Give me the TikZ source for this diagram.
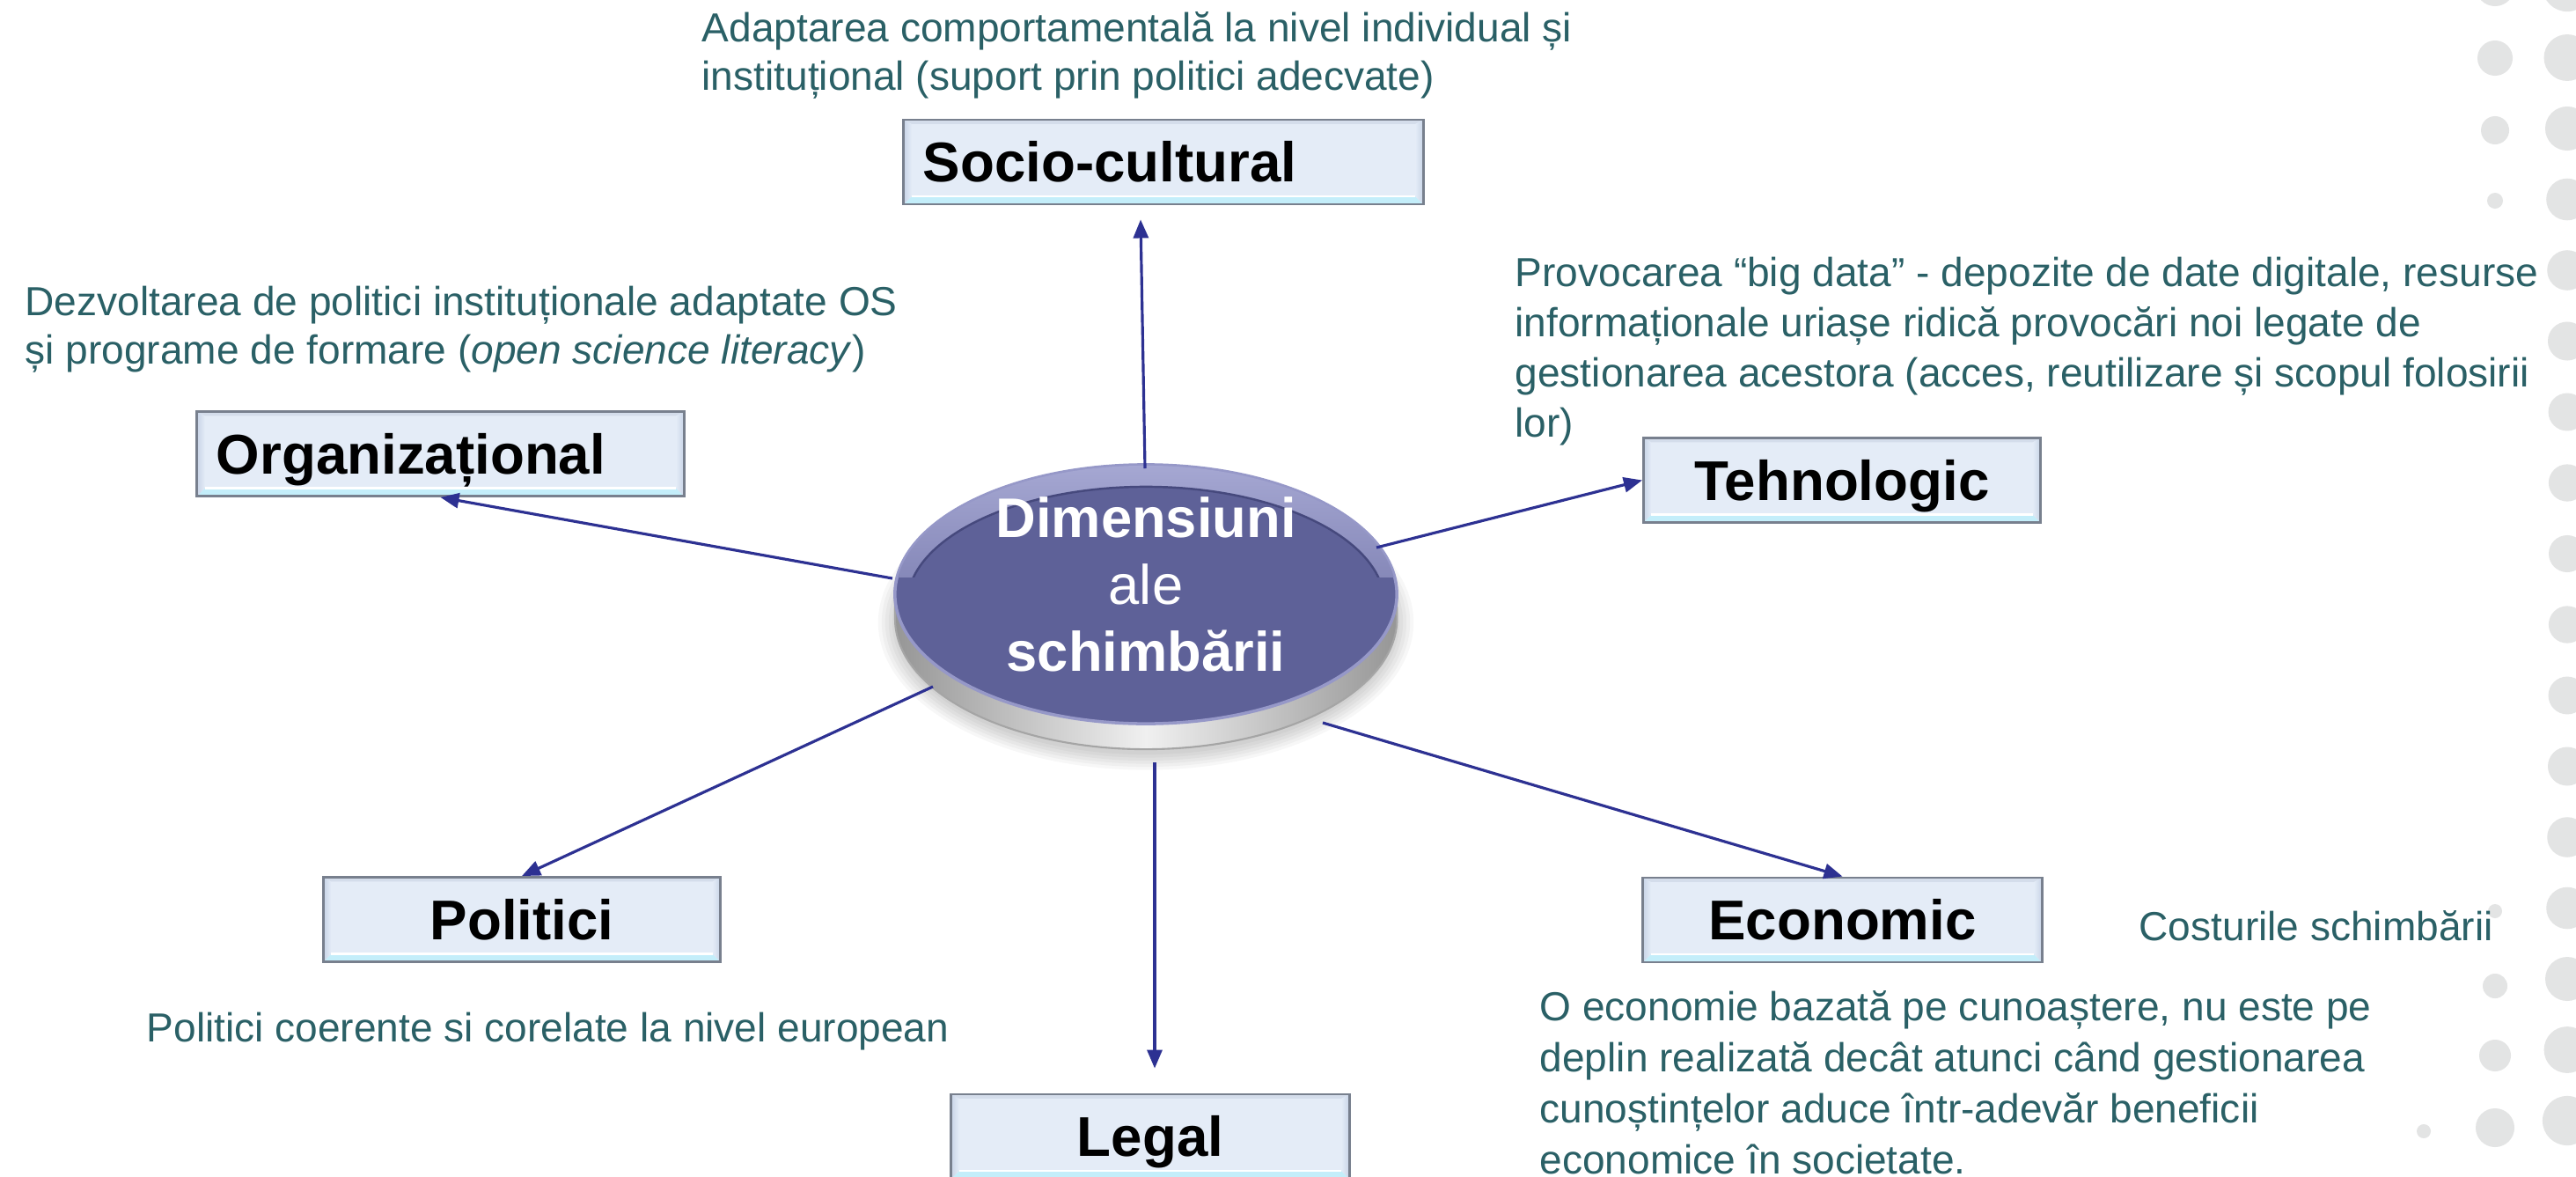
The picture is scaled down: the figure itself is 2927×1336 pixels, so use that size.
\documentclass[tikz,border=0pt]{standalone}
\usepackage{fontspec}
\setmainfont{Liberation Sans}
\usetikzlibrary{shapes.geometric,arrows.meta,calc}
\definecolor{desccol}{RGB}{42,96,102}
\definecolor{arrcol}{RGB}{45,49,146}
\definecolor{boxfill}{RGB}{228,236,247}
\definecolor{boxline}{RGB}{120,128,142}
\definecolor{bevbot}{RGB}{196,238,250}
\definecolor{bevside}{RGB}{200,212,231}
\definecolor{bevtop}{RGB}{212,221,235}
\definecolor{facecol}{RGB}{94,97,152}
\definecolor{facelight}{RGB}{165,167,210}
\definecolor{faceedge}{RGB}{150,152,200}
\definecolor{innerline}{RGB}{70,73,125}
\definecolor{rimdark}{RGB}{150,150,150}
\definecolor{rimlight}{RGB}{240,240,240}
\definecolor{rimedge}{RGB}{165,165,165}
\definecolor{dotcol}{RGB}{227,228,228}
\begin{document}
\begin{tikzpicture}[x=0.01cm,y=-0.01cm,
  desc/.style={text=desccol, font=\fontsize{13.1}{15.7}\selectfont, inner sep=0pt, anchor=base west},
  arr/.style={draw=arrcol, line width=0.9pt, -{Triangle[length=0.21cm,width=0.17cm]}},
  ctrtxt/.style={text=white, font=\fontsize{18}{21.6}\selectfont, align=center, inner sep=0pt},
  bevelbox/.style={draw=boxline, line width=0.8pt, fill=boxfill, inner sep=0pt,
    minimum height=0.96cm, text height=12.96pt, text depth=0pt, text=black,
    font=\fontsize{18.1}{21}\selectfont\bfseries,
    path picture={
      \fill[bevtop] (path picture bounding box.north west) -- (path picture bounding box.north east)
        -- ([xshift=-0.09cm,yshift=-0.05cm]path picture bounding box.north east)
        -- ([xshift=0.09cm,yshift=-0.05cm]path picture bounding box.north west) -- cycle;
      \fill[bevbot] (path picture bounding box.south west) -- (path picture bounding box.south east)
        -- ([xshift=-0.09cm,yshift=0.09cm]path picture bounding box.south east)
        -- ([xshift=0.09cm,yshift=0.09cm]path picture bounding box.south west) -- cycle;
      \shade[left color=bevside, right color=boxfill] (path picture bounding box.south west)
        -- ([xshift=0.09cm,yshift=0.09cm]path picture bounding box.south west)
        -- ([xshift=0.09cm,yshift=-0.05cm]path picture bounding box.north west)
        -- (path picture bounding box.north west) -- cycle;
      \shade[left color=boxfill, right color=bevside] (path picture bounding box.south east)
        -- ([xshift=-0.09cm,yshift=0.09cm]path picture bounding box.south east)
        -- ([xshift=-0.09cm,yshift=-0.05cm]path picture bounding box.north east)
        -- (path picture bounding box.north east) -- cycle;
      \draw[white, line width=0.6pt] ([xshift=0.09cm,yshift=0.09cm]path picture bounding box.south west)
        -- ([xshift=-0.09cm,yshift=0.09cm]path picture bounding box.south east);
    }}
]
\useasboundingbox[fill=white] (0,0) rectangle (2927,1336);

% decorative dots on the right
\foreach \k in {0,...,16}{
  \pgfmathsetmacro\yy{-15+80.5*\k}
  \pgfmathsetmacro\rr{0.21+0.07*((\yy-630)/640)^2}
  \fill[dotcol] (2917,\yy) circle[radius=\rr cm];
}
\foreach \yy/\rr in {-15/0.22, 66/0.20, 148/0.16, 228/0.09, 1035/0.08, 1120/0.14, 1199/0.18, 1281/0.22}
  \fill[dotcol] (2835,\yy) circle[radius=\rr cm];
\fill[dotcol] (2754,1285) circle[radius=0.08cm];

% central disc
\coordinate (c0) at (1302,675);
\foreach \i in {0,...,5}
  \fill[black, opacity=0.03] ($(c0)+(0,32)$) ellipse [x radius={2.84cm+\i*0.04cm}, y radius={1.50cm+\i*0.035cm}];
\shade[left color=rimdark, right color=rimdark, middle color=rimlight, draw=rimedge, line width=0.6pt]
  ($(c0)+(-285,0)$) -- ($(c0)+(-285,28)$)
  arc[start angle=180, end angle=360, x radius=2.85cm, y radius=1.48cm]
  -- ($(c0)+(285,0)$)
  arc[start angle=0, end angle=180, x radius=2.85cm, y radius=1.47cm] -- cycle;
\node[ellipse, draw=faceedge, line width=1pt, fill=facecol, minimum width=5.70cm, minimum height=2.94cm, inner sep=0pt] (ctr) at (c0) {};
\begin{scope}
  \clip ($(ctr.center)+(-300,-170)$) rectangle ($(ctr.center)+(300,-20)$);
  \shade[top color=facelight, bottom color=facecol, even odd rule]
    (ctr.center) ellipse [x radius=2.84cm, y radius=1.46cm]
    ($(ctr.center)+(0,11)$) ellipse [x radius=2.71cm, y radius=1.33cm];
  \draw[innerline, line width=0.7pt] ($(ctr.center)+(0,11)$) ellipse [x radius=2.71cm, y radius=1.33cm];
\end{scope}
\node[ctrtxt] (ctrt) at (1302,664) {\textbf{Dimensiuni}\\ale\\\textbf{schimbării}};

% boxes
\node[bevelbox, text width=5.46cm, inner xsep=0.22cm, align=left] (soc) at (1322,184) {Socio-cultural};
\node[bevelbox, text width=5.09cm, inner xsep=0.22cm, align=left] (org) at (500.5,515.5) {Organizațional};
\node[bevelbox, minimum width=4.51cm] (tech) at (2093,545.5) {Tehnologic};
\node[bevelbox, minimum width=4.51cm] (pol) at (593,1044.5) {Politici};
\node[bevelbox, minimum width=4.53cm] (eco) at (2093.5,1045) {Economic};
\node[bevelbox, minimum width=4.52cm] (legal) at (1307,1291) {Legal};

% descriptions
\node[desc] (tsoc) at (797,47) {\vtop{\baselineskip=0.55cm
  \hbox{Adaptarea comportamentală la nivel individual și}
  \hbox{instituțional (suport prin politici adecvate)}}};
\node[desc] (torg) at (28,358) {\vtop{\baselineskip=0.55cm
  \hbox{Dezvoltarea de politici instituționale adaptate OS}
  \hbox{și programe de formare (\textit{open science literacy})}}};
\node[desc] (ttech) at (1721,325) {\vtop{\baselineskip=0.57cm
  \hbox{Provocarea “big data” - depozite de date digitale, resurse}
  \hbox{informaționale uriașe ridică provocări noi legate de}
  \hbox{gestionarea acestora (acces, reutilizare și scopul folosirii}
  \hbox{lor)}}};
\node[desc] (tcost) at (2430,1068) {Costurile schimbării};
\node[desc] (tpol) at (166,1183) {Politici coerente si corelate la nivel european};
\node[desc] (teco) at (1749,1159) {\vtop{\baselineskip=0.58cm
  \hbox{O economie bazată pe cunoaștere, nu este pe}
  \hbox{deplin realizată decât atunci când gestionarea}
  \hbox{cunoștințelor aduce într-adevăr beneficii}
  \hbox{economice în societate.}}};

% connectors
\draw[arr] ($(ctr.center)+(-1,-143)$) -- ($(soc.south)+(-26,16)$);
\draw[arr] ($(ctr.center)+(-288,-18)$) -- (org.south);
\draw[arr] ($(ctr.center)+(262,-53)$) -- (tech.west);
\draw[arr] ($(ctr.center)+(-242,105)$) -- (pol.north);
\draw[arr] ($(ctr.center)+(201,146)$) -- (eco.north);
\draw[arr] ($(ctr.center)+(10,191)$) -- ($(legal.north)+(5,-28)$);
\end{tikzpicture}
\end{document}
